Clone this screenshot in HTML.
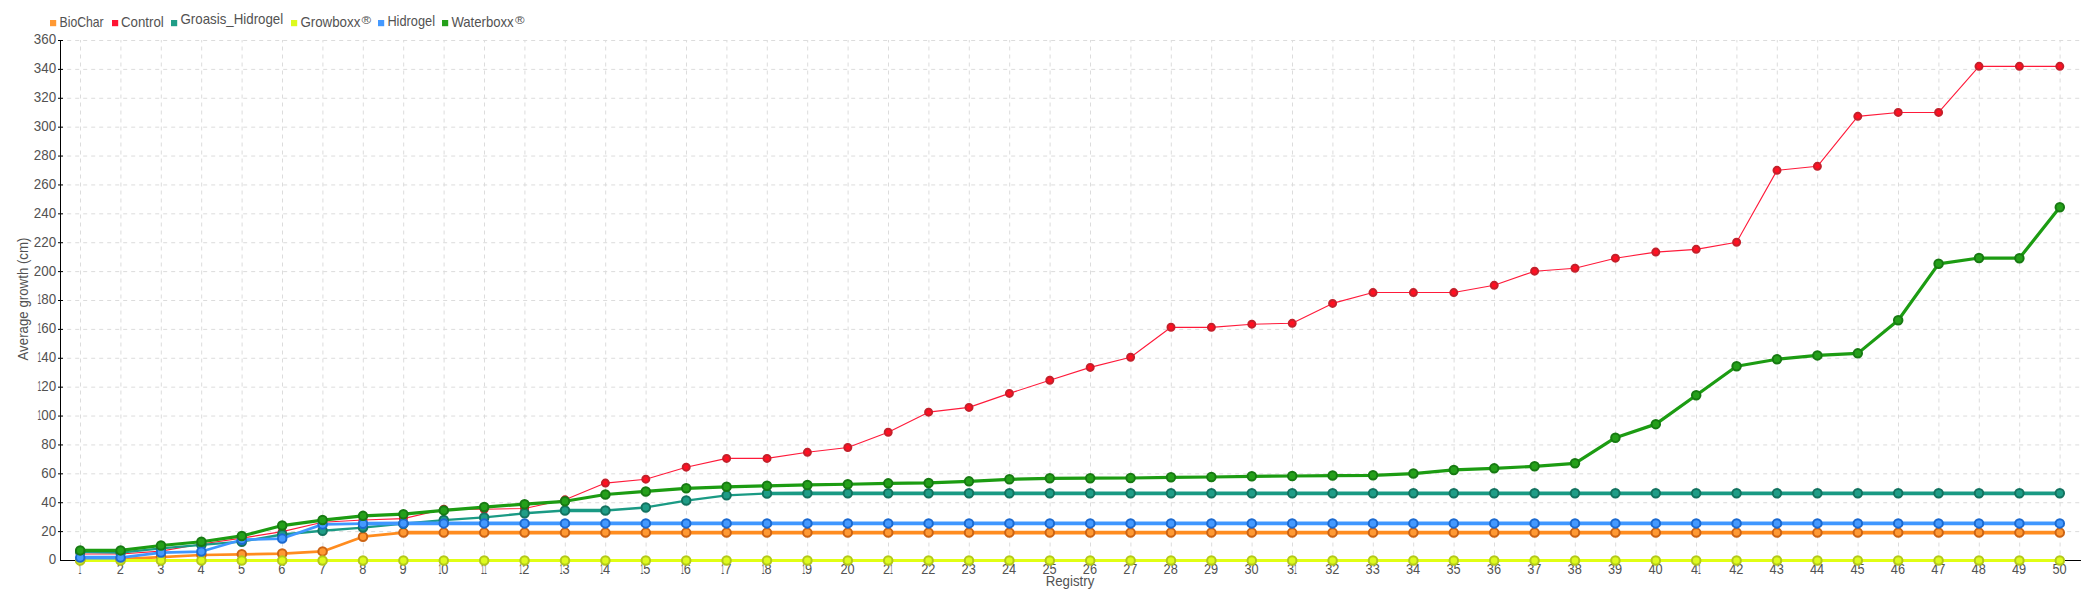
<!DOCTYPE html>
<html lang="en"><head><meta charset="utf-8"><title>Average growth</title>
<style>html,body{margin:0;padding:0;background:#fff;overflow:hidden}svg{display:block}</style></head>
<body>
<svg width="2100" height="600" viewBox="0 0 2100 600" font-family="'Liberation Sans', sans-serif" font-size="14.8" fill="#525252">
<rect width="2100" height="600" fill="#ffffff" stroke="none"/>
<g stroke="#dcdcdc" stroke-width="1" stroke-dasharray="4 4" fill="none">
<line x1="60.0" y1="531.61" x2="2080.0" y2="531.61" stroke-dashoffset="0.8"/>
<line x1="60.0" y1="502.72" x2="2080.0" y2="502.72" stroke-dashoffset="0.8"/>
<line x1="60.0" y1="473.83" x2="2080.0" y2="473.83" stroke-dashoffset="0.8"/>
<line x1="60.0" y1="444.94" x2="2080.0" y2="444.94" stroke-dashoffset="0.8"/>
<line x1="60.0" y1="416.06" x2="2080.0" y2="416.06" stroke-dashoffset="0.8"/>
<line x1="60.0" y1="387.17" x2="2080.0" y2="387.17" stroke-dashoffset="0.8"/>
<line x1="60.0" y1="358.28" x2="2080.0" y2="358.28" stroke-dashoffset="0.8"/>
<line x1="60.0" y1="329.39" x2="2080.0" y2="329.39" stroke-dashoffset="0.8"/>
<line x1="60.0" y1="300.50" x2="2080.0" y2="300.50" stroke-dashoffset="0.8"/>
<line x1="60.0" y1="271.61" x2="2080.0" y2="271.61" stroke-dashoffset="0.8"/>
<line x1="60.0" y1="242.72" x2="2080.0" y2="242.72" stroke-dashoffset="0.8"/>
<line x1="60.0" y1="213.83" x2="2080.0" y2="213.83" stroke-dashoffset="0.8"/>
<line x1="60.0" y1="184.94" x2="2080.0" y2="184.94" stroke-dashoffset="0.8"/>
<line x1="60.0" y1="156.06" x2="2080.0" y2="156.06" stroke-dashoffset="0.8"/>
<line x1="60.0" y1="127.17" x2="2080.0" y2="127.17" stroke-dashoffset="0.8"/>
<line x1="60.0" y1="98.28" x2="2080.0" y2="98.28" stroke-dashoffset="0.8"/>
<line x1="60.0" y1="69.39" x2="2080.0" y2="69.39" stroke-dashoffset="0.8"/>
<line x1="60.0" y1="40.50" x2="2080.0" y2="40.50" stroke-dashoffset="0.8"/>
<line x1="80.50" y1="40" x2="80.50" y2="560" stroke-dashoffset="1.5"/>
<line x1="120.90" y1="40" x2="120.90" y2="560" stroke-dashoffset="1.5"/>
<line x1="161.30" y1="40" x2="161.30" y2="560" stroke-dashoffset="1.5"/>
<line x1="201.70" y1="40" x2="201.70" y2="560" stroke-dashoffset="1.5"/>
<line x1="242.10" y1="40" x2="242.10" y2="560" stroke-dashoffset="1.5"/>
<line x1="282.50" y1="40" x2="282.50" y2="560" stroke-dashoffset="1.5"/>
<line x1="322.90" y1="40" x2="322.90" y2="560" stroke-dashoffset="1.5"/>
<line x1="363.30" y1="40" x2="363.30" y2="560" stroke-dashoffset="1.5"/>
<line x1="403.70" y1="40" x2="403.70" y2="560" stroke-dashoffset="1.5"/>
<line x1="444.10" y1="40" x2="444.10" y2="560" stroke-dashoffset="1.5"/>
<line x1="484.50" y1="40" x2="484.50" y2="560" stroke-dashoffset="1.5"/>
<line x1="524.90" y1="40" x2="524.90" y2="560" stroke-dashoffset="1.5"/>
<line x1="565.30" y1="40" x2="565.30" y2="560" stroke-dashoffset="1.5"/>
<line x1="605.70" y1="40" x2="605.70" y2="560" stroke-dashoffset="1.5"/>
<line x1="646.10" y1="40" x2="646.10" y2="560" stroke-dashoffset="1.5"/>
<line x1="686.50" y1="40" x2="686.50" y2="560" stroke-dashoffset="1.5"/>
<line x1="726.90" y1="40" x2="726.90" y2="560" stroke-dashoffset="1.5"/>
<line x1="767.30" y1="40" x2="767.30" y2="560" stroke-dashoffset="1.5"/>
<line x1="807.70" y1="40" x2="807.70" y2="560" stroke-dashoffset="1.5"/>
<line x1="848.10" y1="40" x2="848.10" y2="560" stroke-dashoffset="1.5"/>
<line x1="888.50" y1="40" x2="888.50" y2="560" stroke-dashoffset="1.5"/>
<line x1="928.90" y1="40" x2="928.90" y2="560" stroke-dashoffset="1.5"/>
<line x1="969.30" y1="40" x2="969.30" y2="560" stroke-dashoffset="1.5"/>
<line x1="1009.70" y1="40" x2="1009.70" y2="560" stroke-dashoffset="1.5"/>
<line x1="1050.10" y1="40" x2="1050.10" y2="560" stroke-dashoffset="1.5"/>
<line x1="1090.50" y1="40" x2="1090.50" y2="560" stroke-dashoffset="1.5"/>
<line x1="1130.90" y1="40" x2="1130.90" y2="560" stroke-dashoffset="1.5"/>
<line x1="1171.30" y1="40" x2="1171.30" y2="560" stroke-dashoffset="1.5"/>
<line x1="1211.70" y1="40" x2="1211.70" y2="560" stroke-dashoffset="1.5"/>
<line x1="1252.10" y1="40" x2="1252.10" y2="560" stroke-dashoffset="1.5"/>
<line x1="1292.50" y1="40" x2="1292.50" y2="560" stroke-dashoffset="1.5"/>
<line x1="1332.90" y1="40" x2="1332.90" y2="560" stroke-dashoffset="1.5"/>
<line x1="1373.30" y1="40" x2="1373.30" y2="560" stroke-dashoffset="1.5"/>
<line x1="1413.70" y1="40" x2="1413.70" y2="560" stroke-dashoffset="1.5"/>
<line x1="1454.10" y1="40" x2="1454.10" y2="560" stroke-dashoffset="1.5"/>
<line x1="1494.50" y1="40" x2="1494.50" y2="560" stroke-dashoffset="1.5"/>
<line x1="1534.90" y1="40" x2="1534.90" y2="560" stroke-dashoffset="1.5"/>
<line x1="1575.30" y1="40" x2="1575.30" y2="560" stroke-dashoffset="1.5"/>
<line x1="1615.70" y1="40" x2="1615.70" y2="560" stroke-dashoffset="1.5"/>
<line x1="1656.10" y1="40" x2="1656.10" y2="560" stroke-dashoffset="1.5"/>
<line x1="1696.50" y1="40" x2="1696.50" y2="560" stroke-dashoffset="1.5"/>
<line x1="1736.90" y1="40" x2="1736.90" y2="560" stroke-dashoffset="1.5"/>
<line x1="1777.30" y1="40" x2="1777.30" y2="560" stroke-dashoffset="1.5"/>
<line x1="1817.70" y1="40" x2="1817.70" y2="560" stroke-dashoffset="1.5"/>
<line x1="1858.10" y1="40" x2="1858.10" y2="560" stroke-dashoffset="1.5"/>
<line x1="1898.50" y1="40" x2="1898.50" y2="560" stroke-dashoffset="1.5"/>
<line x1="1938.90" y1="40" x2="1938.90" y2="560" stroke-dashoffset="1.5"/>
<line x1="1979.30" y1="40" x2="1979.30" y2="560" stroke-dashoffset="1.5"/>
<line x1="2019.70" y1="40" x2="2019.70" y2="560" stroke-dashoffset="1.5"/>
<line x1="2060.10" y1="40" x2="2060.10" y2="560" stroke-dashoffset="1.5"/>
</g>
<g stroke="#000000" stroke-width="1" fill="none">
<line x1="60.5" y1="40" x2="60.5" y2="561"/>
<line x1="60" y1="560.5" x2="2081" y2="560.5"/>
<line x1="58" y1="531.61" x2="63" y2="531.61"/>
<line x1="58" y1="502.72" x2="63" y2="502.72"/>
<line x1="58" y1="473.83" x2="63" y2="473.83"/>
<line x1="58" y1="444.94" x2="63" y2="444.94"/>
<line x1="58" y1="416.06" x2="63" y2="416.06"/>
<line x1="58" y1="387.17" x2="63" y2="387.17"/>
<line x1="58" y1="358.28" x2="63" y2="358.28"/>
<line x1="58" y1="329.39" x2="63" y2="329.39"/>
<line x1="58" y1="300.50" x2="63" y2="300.50"/>
<line x1="58" y1="271.61" x2="63" y2="271.61"/>
<line x1="58" y1="242.72" x2="63" y2="242.72"/>
<line x1="58" y1="213.83" x2="63" y2="213.83"/>
<line x1="58" y1="184.94" x2="63" y2="184.94"/>
<line x1="58" y1="156.06" x2="63" y2="156.06"/>
<line x1="58" y1="127.17" x2="63" y2="127.17"/>
<line x1="58" y1="98.28" x2="63" y2="98.28"/>
<line x1="58" y1="69.39" x2="63" y2="69.39"/>
<line x1="58" y1="40.50" x2="63" y2="40.50"/>
</g>
<text x="48.65" y="564.40"><tspan textLength="7.45" lengthAdjust="spacingAndGlyphs">0</tspan></text>
<text x="41.20" y="535.51"><tspan textLength="14.90" lengthAdjust="spacingAndGlyphs">20</tspan></text>
<text x="41.20" y="506.62"><tspan textLength="14.90" lengthAdjust="spacingAndGlyphs">40</tspan></text>
<text x="41.20" y="477.73"><tspan textLength="14.90" lengthAdjust="spacingAndGlyphs">60</tspan></text>
<text x="41.20" y="448.84"><tspan textLength="14.90" lengthAdjust="spacingAndGlyphs">80</tspan></text>
<text x="37.50" y="419.96"><tspan textLength="3.70" lengthAdjust="spacingAndGlyphs">1</tspan><tspan textLength="14.90" lengthAdjust="spacingAndGlyphs">00</tspan></text>
<text x="37.50" y="391.07"><tspan textLength="3.70" lengthAdjust="spacingAndGlyphs">1</tspan><tspan textLength="14.90" lengthAdjust="spacingAndGlyphs">20</tspan></text>
<text x="37.50" y="362.18"><tspan textLength="3.70" lengthAdjust="spacingAndGlyphs">1</tspan><tspan textLength="14.90" lengthAdjust="spacingAndGlyphs">40</tspan></text>
<text x="37.50" y="333.29"><tspan textLength="3.70" lengthAdjust="spacingAndGlyphs">1</tspan><tspan textLength="14.90" lengthAdjust="spacingAndGlyphs">60</tspan></text>
<text x="37.50" y="304.40"><tspan textLength="3.70" lengthAdjust="spacingAndGlyphs">1</tspan><tspan textLength="14.90" lengthAdjust="spacingAndGlyphs">80</tspan></text>
<text x="33.75" y="275.51"><tspan textLength="22.35" lengthAdjust="spacingAndGlyphs">200</tspan></text>
<text x="33.75" y="246.62"><tspan textLength="22.35" lengthAdjust="spacingAndGlyphs">220</tspan></text>
<text x="33.75" y="217.73"><tspan textLength="22.35" lengthAdjust="spacingAndGlyphs">240</tspan></text>
<text x="33.75" y="188.84"><tspan textLength="22.35" lengthAdjust="spacingAndGlyphs">260</tspan></text>
<text x="33.75" y="159.96"><tspan textLength="22.35" lengthAdjust="spacingAndGlyphs">280</tspan></text>
<text x="33.75" y="131.07"><tspan textLength="22.35" lengthAdjust="spacingAndGlyphs">300</tspan></text>
<text x="33.75" y="102.18"><tspan textLength="22.35" lengthAdjust="spacingAndGlyphs">320</tspan></text>
<text x="33.75" y="73.29"><tspan textLength="22.35" lengthAdjust="spacingAndGlyphs">340</tspan></text>
<text x="33.75" y="44.40"><tspan textLength="22.35" lengthAdjust="spacingAndGlyphs">360</tspan></text>
<text x="78.50" y="573.70"><tspan textLength="2.80" lengthAdjust="spacingAndGlyphs">1</tspan></text>
<text x="116.75" y="573.70"><tspan textLength="7.10" lengthAdjust="spacingAndGlyphs">2</tspan></text>
<text x="157.15" y="573.70"><tspan textLength="7.10" lengthAdjust="spacingAndGlyphs">3</tspan></text>
<text x="197.55" y="573.70"><tspan textLength="7.10" lengthAdjust="spacingAndGlyphs">4</tspan></text>
<text x="237.95" y="573.70"><tspan textLength="7.10" lengthAdjust="spacingAndGlyphs">5</tspan></text>
<text x="278.35" y="573.70"><tspan textLength="7.10" lengthAdjust="spacingAndGlyphs">6</tspan></text>
<text x="318.75" y="573.70"><tspan textLength="7.10" lengthAdjust="spacingAndGlyphs">7</tspan></text>
<text x="359.15" y="573.70"><tspan textLength="7.10" lengthAdjust="spacingAndGlyphs">8</tspan></text>
<text x="399.55" y="573.70"><tspan textLength="7.10" lengthAdjust="spacingAndGlyphs">9</tspan></text>
<text x="438.55" y="573.70"><tspan textLength="2.80" lengthAdjust="spacingAndGlyphs">1</tspan><tspan textLength="7.10" lengthAdjust="spacingAndGlyphs">0</tspan></text>
<text x="481.10" y="573.70"><tspan textLength="2.80" lengthAdjust="spacingAndGlyphs">1</tspan><tspan textLength="2.80" lengthAdjust="spacingAndGlyphs">1</tspan></text>
<text x="519.35" y="573.70"><tspan textLength="2.80" lengthAdjust="spacingAndGlyphs">1</tspan><tspan textLength="7.10" lengthAdjust="spacingAndGlyphs">2</tspan></text>
<text x="559.75" y="573.70"><tspan textLength="2.80" lengthAdjust="spacingAndGlyphs">1</tspan><tspan textLength="7.10" lengthAdjust="spacingAndGlyphs">3</tspan></text>
<text x="600.15" y="573.70"><tspan textLength="2.80" lengthAdjust="spacingAndGlyphs">1</tspan><tspan textLength="7.10" lengthAdjust="spacingAndGlyphs">4</tspan></text>
<text x="640.55" y="573.70"><tspan textLength="2.80" lengthAdjust="spacingAndGlyphs">1</tspan><tspan textLength="7.10" lengthAdjust="spacingAndGlyphs">5</tspan></text>
<text x="680.95" y="573.70"><tspan textLength="2.80" lengthAdjust="spacingAndGlyphs">1</tspan><tspan textLength="7.10" lengthAdjust="spacingAndGlyphs">6</tspan></text>
<text x="721.35" y="573.70"><tspan textLength="2.80" lengthAdjust="spacingAndGlyphs">1</tspan><tspan textLength="7.10" lengthAdjust="spacingAndGlyphs">7</tspan></text>
<text x="761.75" y="573.70"><tspan textLength="2.80" lengthAdjust="spacingAndGlyphs">1</tspan><tspan textLength="7.10" lengthAdjust="spacingAndGlyphs">8</tspan></text>
<text x="802.15" y="573.70"><tspan textLength="2.80" lengthAdjust="spacingAndGlyphs">1</tspan><tspan textLength="7.10" lengthAdjust="spacingAndGlyphs">9</tspan></text>
<text x="840.40" y="573.70"><tspan textLength="14.20" lengthAdjust="spacingAndGlyphs">20</tspan></text>
<text x="882.95" y="573.70"><tspan textLength="7.10" lengthAdjust="spacingAndGlyphs">2</tspan><tspan textLength="2.80" lengthAdjust="spacingAndGlyphs">1</tspan></text>
<text x="921.20" y="573.70"><tspan textLength="14.20" lengthAdjust="spacingAndGlyphs">22</tspan></text>
<text x="961.60" y="573.70"><tspan textLength="14.20" lengthAdjust="spacingAndGlyphs">23</tspan></text>
<text x="1002.00" y="573.70"><tspan textLength="14.20" lengthAdjust="spacingAndGlyphs">24</tspan></text>
<text x="1042.40" y="573.70"><tspan textLength="14.20" lengthAdjust="spacingAndGlyphs">25</tspan></text>
<text x="1082.80" y="573.70"><tspan textLength="14.20" lengthAdjust="spacingAndGlyphs">26</tspan></text>
<text x="1123.20" y="573.70"><tspan textLength="14.20" lengthAdjust="spacingAndGlyphs">27</tspan></text>
<text x="1163.60" y="573.70"><tspan textLength="14.20" lengthAdjust="spacingAndGlyphs">28</tspan></text>
<text x="1204.00" y="573.70"><tspan textLength="14.20" lengthAdjust="spacingAndGlyphs">29</tspan></text>
<text x="1244.40" y="573.70"><tspan textLength="14.20" lengthAdjust="spacingAndGlyphs">30</tspan></text>
<text x="1286.95" y="573.70"><tspan textLength="7.10" lengthAdjust="spacingAndGlyphs">3</tspan><tspan textLength="2.80" lengthAdjust="spacingAndGlyphs">1</tspan></text>
<text x="1325.20" y="573.70"><tspan textLength="14.20" lengthAdjust="spacingAndGlyphs">32</tspan></text>
<text x="1365.60" y="573.70"><tspan textLength="14.20" lengthAdjust="spacingAndGlyphs">33</tspan></text>
<text x="1406.00" y="573.70"><tspan textLength="14.20" lengthAdjust="spacingAndGlyphs">34</tspan></text>
<text x="1446.40" y="573.70"><tspan textLength="14.20" lengthAdjust="spacingAndGlyphs">35</tspan></text>
<text x="1486.80" y="573.70"><tspan textLength="14.20" lengthAdjust="spacingAndGlyphs">36</tspan></text>
<text x="1527.20" y="573.70"><tspan textLength="14.20" lengthAdjust="spacingAndGlyphs">37</tspan></text>
<text x="1567.60" y="573.70"><tspan textLength="14.20" lengthAdjust="spacingAndGlyphs">38</tspan></text>
<text x="1608.00" y="573.70"><tspan textLength="14.20" lengthAdjust="spacingAndGlyphs">39</tspan></text>
<text x="1648.40" y="573.70"><tspan textLength="14.20" lengthAdjust="spacingAndGlyphs">40</tspan></text>
<text x="1690.95" y="573.70"><tspan textLength="7.10" lengthAdjust="spacingAndGlyphs">4</tspan><tspan textLength="2.80" lengthAdjust="spacingAndGlyphs">1</tspan></text>
<text x="1729.20" y="573.70"><tspan textLength="14.20" lengthAdjust="spacingAndGlyphs">42</tspan></text>
<text x="1769.60" y="573.70"><tspan textLength="14.20" lengthAdjust="spacingAndGlyphs">43</tspan></text>
<text x="1810.00" y="573.70"><tspan textLength="14.20" lengthAdjust="spacingAndGlyphs">44</tspan></text>
<text x="1850.40" y="573.70"><tspan textLength="14.20" lengthAdjust="spacingAndGlyphs">45</tspan></text>
<text x="1890.80" y="573.70"><tspan textLength="14.20" lengthAdjust="spacingAndGlyphs">46</tspan></text>
<text x="1931.20" y="573.70"><tspan textLength="14.20" lengthAdjust="spacingAndGlyphs">47</tspan></text>
<text x="1971.60" y="573.70"><tspan textLength="14.20" lengthAdjust="spacingAndGlyphs">48</tspan></text>
<text x="2012.00" y="573.70"><tspan textLength="14.20" lengthAdjust="spacingAndGlyphs">49</tspan></text>
<text x="2052.40" y="573.70"><tspan textLength="14.20" lengthAdjust="spacingAndGlyphs">50</tspan></text>
<text x="1070" y="585.8" text-anchor="middle" textLength="48.6" lengthAdjust="spacingAndGlyphs">Registry</text>
<text transform="translate(28 299) rotate(-90)" text-anchor="middle" textLength="123" lengthAdjust="spacingAndGlyphs">Average growth (cm)</text>
<polyline points="80.2,559.78 120.6,559.06 161.0,557.03 201.4,555.01 241.8,554.29 282.2,553.57 322.6,551.40 363.0,536.67 403.4,532.62" fill="none" stroke="#ff8c1f" stroke-width="2.7" stroke-linejoin="round"/>
<polyline points="403.4,532.62 443.8,532.62 484.2,532.62 524.6,532.62 565.0,532.62 605.4,532.62 645.8,532.62 686.2,532.62 726.6,532.62 767.0,532.62 807.4,532.62 847.8,532.62 888.2,532.62 928.6,532.62 969.0,532.62 1009.4,532.62 1049.8,532.62 1090.2,532.62 1130.6,532.62 1171.0,532.62 1211.4,532.62 1251.8,532.62 1292.2,532.62 1332.6,532.62 1373.0,532.62 1413.4,532.62 1453.8,532.62 1494.2,532.62 1534.6,532.62 1575.0,532.62 1615.4,532.62 1655.8,532.62 1696.2,532.62 1736.6,532.62 1777.0,532.62 1817.4,532.62 1857.8,532.62 1898.2,532.62 1938.6,532.62 1979.0,532.62 2019.4,532.62 2059.8,532.62" fill="none" stroke="#ff8c1f" stroke-width="3.6" stroke-linejoin="round"/>
<polyline points="80.2,554.00 120.6,554.00 161.0,551.11 201.4,544.03 241.8,538.11 282.2,531.61 322.6,522.22 363.0,520.06 403.4,518.61 443.8,509.22 484.2,509.22 524.6,508.50 565.0,499.83 605.4,483.08 645.8,479.18 686.2,467.19 726.6,458.38 767.0,458.38 807.4,452.31 847.8,447.54 888.2,432.23 928.6,412.16 969.0,407.39 1009.4,393.38 1049.8,380.23 1090.2,367.38 1130.6,357.27 1171.0,327.22 1211.4,327.37 1251.8,324.19 1292.2,323.32 1332.6,303.39 1373.0,292.56 1413.4,292.56 1453.8,292.56 1494.2,285.33 1534.6,271.18 1575.0,268.29 1615.4,258.18 1655.8,252.11 1696.2,249.37 1736.6,242.29 1777.0,170.36 1817.4,166.31 1857.8,116.33 1898.2,112.43 1938.6,112.43 1979.0,66.36 2019.4,66.36 2059.8,66.36" fill="none" stroke="#ff1a3a" stroke-width="1.1" stroke-linejoin="round"/>
<polyline points="80.2,551.83 120.6,552.56 161.0,548.37 201.4,544.90 241.8,541.72 282.2,534.50 322.6,530.74 363.0,527.57 403.4,523.67 443.8,520.06 484.2,517.46 524.6,513.27 565.0,510.52" fill="none" stroke="#1a9a84" stroke-width="2.3" stroke-linejoin="round"/>
<polyline points="565.0,510.52 605.4,510.52" fill="none" stroke="#1a9a84" stroke-width="3.6" stroke-linejoin="round"/>
<polyline points="605.4,510.52 645.8,507.49 686.2,500.56 726.6,495.36 767.0,493.48" fill="none" stroke="#1a9a84" stroke-width="2.3" stroke-linejoin="round"/>
<polyline points="767.0,493.48 807.4,493.33 847.8,493.33 888.2,493.33 928.6,493.33 969.0,493.33 1009.4,493.33 1049.8,493.33 1090.2,493.33 1130.6,493.33 1171.0,493.33 1211.4,493.33 1251.8,493.33 1292.2,493.33 1332.6,493.33 1373.0,493.33 1413.4,493.33 1453.8,493.33 1494.2,493.33 1534.6,493.33 1575.0,493.33 1615.4,493.33 1655.8,493.33 1696.2,493.33 1736.6,493.33 1777.0,493.33 1817.4,493.33 1857.8,493.33 1898.2,493.33 1938.6,493.33 1979.0,493.33 2019.4,493.33 2059.8,493.33" fill="none" stroke="#1a9a84" stroke-width="3.6" stroke-linejoin="round"/>
<polyline points="80.2,560.50 120.6,560.50 161.0,560.50 201.4,560.50 241.8,560.50 282.2,560.50 322.6,560.50 363.0,560.50 403.4,560.50 443.8,560.50 484.2,560.50 524.6,560.50 565.0,560.50 605.4,560.50 645.8,560.50 686.2,560.50 726.6,560.50 767.0,560.50 807.4,560.50 847.8,560.50 888.2,560.50 928.6,560.50 969.0,560.50 1009.4,560.50 1049.8,560.50 1090.2,560.50 1130.6,560.50 1171.0,560.50 1211.4,560.50 1251.8,560.50 1292.2,560.50 1332.6,560.50 1373.0,560.50 1413.4,560.50 1453.8,560.50 1494.2,560.50 1534.6,560.50 1575.0,560.50 1615.4,560.50 1655.8,560.50 1696.2,560.50 1736.6,560.50 1777.0,560.50 1817.4,560.50 1857.8,560.50 1898.2,560.50 1938.6,560.50 1979.0,560.50 2019.4,560.50 2059.8,560.50" fill="none" stroke="#e1ff14" stroke-width="3" stroke-linejoin="round"/>
<polyline points="80.2,557.61 120.6,557.61" fill="none" stroke="#3f97ff" stroke-width="3.6" stroke-linejoin="round"/>
<polyline points="120.6,557.61 161.0,552.56 201.4,551.54 241.8,539.70 282.2,538.54 322.6,524.39 363.0,523.67" fill="none" stroke="#3f97ff" stroke-width="2.7" stroke-linejoin="round"/>
<polyline points="363.0,523.67 403.4,523.38 443.8,523.38 484.2,523.38 524.6,523.38 565.0,523.38 605.4,523.38 645.8,523.38 686.2,523.38 726.6,523.38 767.0,523.38 807.4,523.38 847.8,523.38 888.2,523.38 928.6,523.38 969.0,523.38 1009.4,523.38 1049.8,523.38 1090.2,523.38 1130.6,523.38 1171.0,523.38 1211.4,523.38 1251.8,523.38 1292.2,523.38 1332.6,523.38 1373.0,523.38 1413.4,523.38 1453.8,523.38 1494.2,523.38 1534.6,523.38 1575.0,523.38 1615.4,523.38 1655.8,523.38 1696.2,523.38 1736.6,523.38 1777.0,523.38 1817.4,523.38 1857.8,523.38 1898.2,523.38 1938.6,523.38 1979.0,523.38 2019.4,523.38 2059.8,523.38" fill="none" stroke="#3f97ff" stroke-width="3.6" stroke-linejoin="round"/>
<polyline points="80.2,550.39 120.6,550.39 161.0,545.48 201.4,541.72 241.8,535.94 282.2,525.54 322.6,520.06 363.0,515.87 403.4,514.13 443.8,510.38 484.2,507.06 524.6,504.17 565.0,501.28 605.4,494.49 645.8,491.46 686.2,488.28 726.6,486.83 767.0,485.82 807.4,484.96 847.8,484.23 888.2,483.37 928.6,482.93 969.0,481.34 1009.4,479.32 1049.8,478.31 1090.2,478.17 1130.6,478.02 1171.0,477.30 1211.4,477.01 1251.8,476.29 1292.2,476.00 1332.6,475.57 1373.0,475.28 1413.4,473.54 1453.8,469.93 1494.2,468.34 1534.6,466.32 1575.0,463.29 1615.4,437.72 1655.8,424.14 1696.2,395.26 1736.6,366.22 1777.0,359.29 1817.4,355.39 1857.8,353.37 1898.2,320.29 1938.6,263.81 1979.0,258.03 2019.4,258.18 2059.8,207.33" fill="none" stroke="#1c9c12" stroke-width="3.2" stroke-linejoin="round"/>
<g fill="#ff9933" stroke="#cc6414" stroke-width="2">
<circle cx="80.2" cy="559.78" r="4.25"/>
<circle cx="120.6" cy="559.06" r="4.25"/>
<circle cx="161.0" cy="557.03" r="4.25"/>
<circle cx="201.4" cy="555.01" r="4.25"/>
<circle cx="241.8" cy="554.29" r="4.25"/>
<circle cx="282.2" cy="553.57" r="4.25"/>
<circle cx="322.6" cy="551.40" r="4.25"/>
<circle cx="363.0" cy="536.67" r="4.25"/>
<circle cx="403.4" cy="532.62" r="4.25"/>
<circle cx="443.8" cy="532.62" r="4.25"/>
<circle cx="484.2" cy="532.62" r="4.25"/>
<circle cx="524.6" cy="532.62" r="4.25"/>
<circle cx="565.0" cy="532.62" r="4.25"/>
<circle cx="605.4" cy="532.62" r="4.25"/>
<circle cx="645.8" cy="532.62" r="4.25"/>
<circle cx="686.2" cy="532.62" r="4.25"/>
<circle cx="726.6" cy="532.62" r="4.25"/>
<circle cx="767.0" cy="532.62" r="4.25"/>
<circle cx="807.4" cy="532.62" r="4.25"/>
<circle cx="847.8" cy="532.62" r="4.25"/>
<circle cx="888.2" cy="532.62" r="4.25"/>
<circle cx="928.6" cy="532.62" r="4.25"/>
<circle cx="969.0" cy="532.62" r="4.25"/>
<circle cx="1009.4" cy="532.62" r="4.25"/>
<circle cx="1049.8" cy="532.62" r="4.25"/>
<circle cx="1090.2" cy="532.62" r="4.25"/>
<circle cx="1130.6" cy="532.62" r="4.25"/>
<circle cx="1171.0" cy="532.62" r="4.25"/>
<circle cx="1211.4" cy="532.62" r="4.25"/>
<circle cx="1251.8" cy="532.62" r="4.25"/>
<circle cx="1292.2" cy="532.62" r="4.25"/>
<circle cx="1332.6" cy="532.62" r="4.25"/>
<circle cx="1373.0" cy="532.62" r="4.25"/>
<circle cx="1413.4" cy="532.62" r="4.25"/>
<circle cx="1453.8" cy="532.62" r="4.25"/>
<circle cx="1494.2" cy="532.62" r="4.25"/>
<circle cx="1534.6" cy="532.62" r="4.25"/>
<circle cx="1575.0" cy="532.62" r="4.25"/>
<circle cx="1615.4" cy="532.62" r="4.25"/>
<circle cx="1655.8" cy="532.62" r="4.25"/>
<circle cx="1696.2" cy="532.62" r="4.25"/>
<circle cx="1736.6" cy="532.62" r="4.25"/>
<circle cx="1777.0" cy="532.62" r="4.25"/>
<circle cx="1817.4" cy="532.62" r="4.25"/>
<circle cx="1857.8" cy="532.62" r="4.25"/>
<circle cx="1898.2" cy="532.62" r="4.25"/>
<circle cx="1938.6" cy="532.62" r="4.25"/>
<circle cx="1979.0" cy="532.62" r="4.25"/>
<circle cx="2019.4" cy="532.62" r="4.25"/>
<circle cx="2059.8" cy="532.62" r="4.25"/>
</g>
<g fill="#ff1022" stroke="#c4202b" stroke-width="2">
<circle cx="80.2" cy="554.00" r="3.5"/>
<circle cx="120.6" cy="554.00" r="3.5"/>
<circle cx="161.0" cy="551.11" r="3.5"/>
<circle cx="201.4" cy="544.03" r="3.5"/>
<circle cx="241.8" cy="538.11" r="3.5"/>
<circle cx="282.2" cy="531.61" r="3.5"/>
<circle cx="322.6" cy="522.22" r="3.5"/>
<circle cx="363.0" cy="520.06" r="3.5"/>
<circle cx="403.4" cy="518.61" r="3.5"/>
<circle cx="443.8" cy="509.22" r="3.5"/>
<circle cx="484.2" cy="509.22" r="3.5"/>
<circle cx="524.6" cy="508.50" r="3.5"/>
<circle cx="565.0" cy="499.83" r="3.5"/>
<circle cx="605.4" cy="483.08" r="3.5"/>
<circle cx="645.8" cy="479.18" r="3.5"/>
<circle cx="686.2" cy="467.19" r="3.5"/>
<circle cx="726.6" cy="458.38" r="3.5"/>
<circle cx="767.0" cy="458.38" r="3.5"/>
<circle cx="807.4" cy="452.31" r="3.5"/>
<circle cx="847.8" cy="447.54" r="3.5"/>
<circle cx="888.2" cy="432.23" r="3.5"/>
<circle cx="928.6" cy="412.16" r="3.5"/>
<circle cx="969.0" cy="407.39" r="3.5"/>
<circle cx="1009.4" cy="393.38" r="3.5"/>
<circle cx="1049.8" cy="380.23" r="3.5"/>
<circle cx="1090.2" cy="367.38" r="3.5"/>
<circle cx="1130.6" cy="357.27" r="3.5"/>
<circle cx="1171.0" cy="327.22" r="3.5"/>
<circle cx="1211.4" cy="327.37" r="3.5"/>
<circle cx="1251.8" cy="324.19" r="3.5"/>
<circle cx="1292.2" cy="323.32" r="3.5"/>
<circle cx="1332.6" cy="303.39" r="3.5"/>
<circle cx="1373.0" cy="292.56" r="3.5"/>
<circle cx="1413.4" cy="292.56" r="3.5"/>
<circle cx="1453.8" cy="292.56" r="3.5"/>
<circle cx="1494.2" cy="285.33" r="3.5"/>
<circle cx="1534.6" cy="271.18" r="3.5"/>
<circle cx="1575.0" cy="268.29" r="3.5"/>
<circle cx="1615.4" cy="258.18" r="3.5"/>
<circle cx="1655.8" cy="252.11" r="3.5"/>
<circle cx="1696.2" cy="249.37" r="3.5"/>
<circle cx="1736.6" cy="242.29" r="3.5"/>
<circle cx="1777.0" cy="170.36" r="3.5"/>
<circle cx="1817.4" cy="166.31" r="3.5"/>
<circle cx="1857.8" cy="116.33" r="3.5"/>
<circle cx="1898.2" cy="112.43" r="3.5"/>
<circle cx="1938.6" cy="112.43" r="3.5"/>
<circle cx="1979.0" cy="66.36" r="3.5"/>
<circle cx="2019.4" cy="66.36" r="3.5"/>
<circle cx="2059.8" cy="66.36" r="3.5"/>
</g>
<g fill="#1f9d87" stroke="#137360" stroke-width="2">
<circle cx="80.2" cy="551.83" r="4.25"/>
<circle cx="120.6" cy="552.56" r="4.25"/>
<circle cx="161.0" cy="548.37" r="4.25"/>
<circle cx="201.4" cy="544.90" r="4.25"/>
<circle cx="241.8" cy="541.72" r="4.25"/>
<circle cx="282.2" cy="534.50" r="4.25"/>
<circle cx="322.6" cy="530.74" r="4.25"/>
<circle cx="363.0" cy="527.57" r="4.25"/>
<circle cx="403.4" cy="523.67" r="4.25"/>
<circle cx="443.8" cy="520.06" r="4.25"/>
<circle cx="484.2" cy="517.46" r="4.25"/>
<circle cx="524.6" cy="513.27" r="4.25"/>
<circle cx="565.0" cy="510.52" r="4.25"/>
<circle cx="605.4" cy="510.52" r="4.25"/>
<circle cx="645.8" cy="507.49" r="4.25"/>
<circle cx="686.2" cy="500.56" r="4.25"/>
<circle cx="726.6" cy="495.36" r="4.25"/>
<circle cx="767.0" cy="493.48" r="4.25"/>
<circle cx="807.4" cy="493.33" r="4.25"/>
<circle cx="847.8" cy="493.33" r="4.25"/>
<circle cx="888.2" cy="493.33" r="4.25"/>
<circle cx="928.6" cy="493.33" r="4.25"/>
<circle cx="969.0" cy="493.33" r="4.25"/>
<circle cx="1009.4" cy="493.33" r="4.25"/>
<circle cx="1049.8" cy="493.33" r="4.25"/>
<circle cx="1090.2" cy="493.33" r="4.25"/>
<circle cx="1130.6" cy="493.33" r="4.25"/>
<circle cx="1171.0" cy="493.33" r="4.25"/>
<circle cx="1211.4" cy="493.33" r="4.25"/>
<circle cx="1251.8" cy="493.33" r="4.25"/>
<circle cx="1292.2" cy="493.33" r="4.25"/>
<circle cx="1332.6" cy="493.33" r="4.25"/>
<circle cx="1373.0" cy="493.33" r="4.25"/>
<circle cx="1413.4" cy="493.33" r="4.25"/>
<circle cx="1453.8" cy="493.33" r="4.25"/>
<circle cx="1494.2" cy="493.33" r="4.25"/>
<circle cx="1534.6" cy="493.33" r="4.25"/>
<circle cx="1575.0" cy="493.33" r="4.25"/>
<circle cx="1615.4" cy="493.33" r="4.25"/>
<circle cx="1655.8" cy="493.33" r="4.25"/>
<circle cx="1696.2" cy="493.33" r="4.25"/>
<circle cx="1736.6" cy="493.33" r="4.25"/>
<circle cx="1777.0" cy="493.33" r="4.25"/>
<circle cx="1817.4" cy="493.33" r="4.25"/>
<circle cx="1857.8" cy="493.33" r="4.25"/>
<circle cx="1898.2" cy="493.33" r="4.25"/>
<circle cx="1938.6" cy="493.33" r="4.25"/>
<circle cx="1979.0" cy="493.33" r="4.25"/>
<circle cx="2019.4" cy="493.33" r="4.25"/>
<circle cx="2059.8" cy="493.33" r="4.25"/>
</g>
<g fill="#ddfa1e" stroke="#b3c81a" stroke-width="2">
<circle cx="80.2" cy="560.50" r="4.25"/>
<circle cx="120.6" cy="560.50" r="4.25"/>
<circle cx="161.0" cy="560.50" r="4.25"/>
<circle cx="201.4" cy="560.50" r="4.25"/>
<circle cx="241.8" cy="560.50" r="4.25"/>
<circle cx="282.2" cy="560.50" r="4.25"/>
<circle cx="322.6" cy="560.50" r="4.25"/>
<circle cx="363.0" cy="560.50" r="4.25"/>
<circle cx="403.4" cy="560.50" r="4.25"/>
<circle cx="443.8" cy="560.50" r="4.25"/>
<circle cx="484.2" cy="560.50" r="4.25"/>
<circle cx="524.6" cy="560.50" r="4.25"/>
<circle cx="565.0" cy="560.50" r="4.25"/>
<circle cx="605.4" cy="560.50" r="4.25"/>
<circle cx="645.8" cy="560.50" r="4.25"/>
<circle cx="686.2" cy="560.50" r="4.25"/>
<circle cx="726.6" cy="560.50" r="4.25"/>
<circle cx="767.0" cy="560.50" r="4.25"/>
<circle cx="807.4" cy="560.50" r="4.25"/>
<circle cx="847.8" cy="560.50" r="4.25"/>
<circle cx="888.2" cy="560.50" r="4.25"/>
<circle cx="928.6" cy="560.50" r="4.25"/>
<circle cx="969.0" cy="560.50" r="4.25"/>
<circle cx="1009.4" cy="560.50" r="4.25"/>
<circle cx="1049.8" cy="560.50" r="4.25"/>
<circle cx="1090.2" cy="560.50" r="4.25"/>
<circle cx="1130.6" cy="560.50" r="4.25"/>
<circle cx="1171.0" cy="560.50" r="4.25"/>
<circle cx="1211.4" cy="560.50" r="4.25"/>
<circle cx="1251.8" cy="560.50" r="4.25"/>
<circle cx="1292.2" cy="560.50" r="4.25"/>
<circle cx="1332.6" cy="560.50" r="4.25"/>
<circle cx="1373.0" cy="560.50" r="4.25"/>
<circle cx="1413.4" cy="560.50" r="4.25"/>
<circle cx="1453.8" cy="560.50" r="4.25"/>
<circle cx="1494.2" cy="560.50" r="4.25"/>
<circle cx="1534.6" cy="560.50" r="4.25"/>
<circle cx="1575.0" cy="560.50" r="4.25"/>
<circle cx="1615.4" cy="560.50" r="4.25"/>
<circle cx="1655.8" cy="560.50" r="4.25"/>
<circle cx="1696.2" cy="560.50" r="4.25"/>
<circle cx="1736.6" cy="560.50" r="4.25"/>
<circle cx="1777.0" cy="560.50" r="4.25"/>
<circle cx="1817.4" cy="560.50" r="4.25"/>
<circle cx="1857.8" cy="560.50" r="4.25"/>
<circle cx="1898.2" cy="560.50" r="4.25"/>
<circle cx="1938.6" cy="560.50" r="4.25"/>
<circle cx="1979.0" cy="560.50" r="4.25"/>
<circle cx="2019.4" cy="560.50" r="4.25"/>
<circle cx="2059.8" cy="560.50" r="4.25"/>
</g>
<g fill="#4499ff" stroke="#1c6ad0" stroke-width="2">
<circle cx="80.2" cy="557.61" r="4.25"/>
<circle cx="120.6" cy="557.61" r="4.25"/>
<circle cx="161.0" cy="552.56" r="4.25"/>
<circle cx="201.4" cy="551.54" r="4.25"/>
<circle cx="241.8" cy="539.70" r="4.25"/>
<circle cx="282.2" cy="538.54" r="4.25"/>
<circle cx="322.6" cy="524.39" r="4.25"/>
<circle cx="363.0" cy="523.67" r="4.25"/>
<circle cx="403.4" cy="523.38" r="4.25"/>
<circle cx="443.8" cy="523.38" r="4.25"/>
<circle cx="484.2" cy="523.38" r="4.25"/>
<circle cx="524.6" cy="523.38" r="4.25"/>
<circle cx="565.0" cy="523.38" r="4.25"/>
<circle cx="605.4" cy="523.38" r="4.25"/>
<circle cx="645.8" cy="523.38" r="4.25"/>
<circle cx="686.2" cy="523.38" r="4.25"/>
<circle cx="726.6" cy="523.38" r="4.25"/>
<circle cx="767.0" cy="523.38" r="4.25"/>
<circle cx="807.4" cy="523.38" r="4.25"/>
<circle cx="847.8" cy="523.38" r="4.25"/>
<circle cx="888.2" cy="523.38" r="4.25"/>
<circle cx="928.6" cy="523.38" r="4.25"/>
<circle cx="969.0" cy="523.38" r="4.25"/>
<circle cx="1009.4" cy="523.38" r="4.25"/>
<circle cx="1049.8" cy="523.38" r="4.25"/>
<circle cx="1090.2" cy="523.38" r="4.25"/>
<circle cx="1130.6" cy="523.38" r="4.25"/>
<circle cx="1171.0" cy="523.38" r="4.25"/>
<circle cx="1211.4" cy="523.38" r="4.25"/>
<circle cx="1251.8" cy="523.38" r="4.25"/>
<circle cx="1292.2" cy="523.38" r="4.25"/>
<circle cx="1332.6" cy="523.38" r="4.25"/>
<circle cx="1373.0" cy="523.38" r="4.25"/>
<circle cx="1413.4" cy="523.38" r="4.25"/>
<circle cx="1453.8" cy="523.38" r="4.25"/>
<circle cx="1494.2" cy="523.38" r="4.25"/>
<circle cx="1534.6" cy="523.38" r="4.25"/>
<circle cx="1575.0" cy="523.38" r="4.25"/>
<circle cx="1615.4" cy="523.38" r="4.25"/>
<circle cx="1655.8" cy="523.38" r="4.25"/>
<circle cx="1696.2" cy="523.38" r="4.25"/>
<circle cx="1736.6" cy="523.38" r="4.25"/>
<circle cx="1777.0" cy="523.38" r="4.25"/>
<circle cx="1817.4" cy="523.38" r="4.25"/>
<circle cx="1857.8" cy="523.38" r="4.25"/>
<circle cx="1898.2" cy="523.38" r="4.25"/>
<circle cx="1938.6" cy="523.38" r="4.25"/>
<circle cx="1979.0" cy="523.38" r="4.25"/>
<circle cx="2019.4" cy="523.38" r="4.25"/>
<circle cx="2059.8" cy="523.38" r="4.25"/>
</g>
<g fill="#25a01a" stroke="#177a12" stroke-width="2">
<circle cx="80.2" cy="550.39" r="4.25"/>
<circle cx="120.6" cy="550.39" r="4.25"/>
<circle cx="161.0" cy="545.48" r="4.25"/>
<circle cx="201.4" cy="541.72" r="4.25"/>
<circle cx="241.8" cy="535.94" r="4.25"/>
<circle cx="282.2" cy="525.54" r="4.25"/>
<circle cx="322.6" cy="520.06" r="4.25"/>
<circle cx="363.0" cy="515.87" r="4.25"/>
<circle cx="403.4" cy="514.13" r="4.25"/>
<circle cx="443.8" cy="510.38" r="4.25"/>
<circle cx="484.2" cy="507.06" r="4.25"/>
<circle cx="524.6" cy="504.17" r="4.25"/>
<circle cx="565.0" cy="501.28" r="4.25"/>
<circle cx="605.4" cy="494.49" r="4.25"/>
<circle cx="645.8" cy="491.46" r="4.25"/>
<circle cx="686.2" cy="488.28" r="4.25"/>
<circle cx="726.6" cy="486.83" r="4.25"/>
<circle cx="767.0" cy="485.82" r="4.25"/>
<circle cx="807.4" cy="484.96" r="4.25"/>
<circle cx="847.8" cy="484.23" r="4.25"/>
<circle cx="888.2" cy="483.37" r="4.25"/>
<circle cx="928.6" cy="482.93" r="4.25"/>
<circle cx="969.0" cy="481.34" r="4.25"/>
<circle cx="1009.4" cy="479.32" r="4.25"/>
<circle cx="1049.8" cy="478.31" r="4.25"/>
<circle cx="1090.2" cy="478.17" r="4.25"/>
<circle cx="1130.6" cy="478.02" r="4.25"/>
<circle cx="1171.0" cy="477.30" r="4.25"/>
<circle cx="1211.4" cy="477.01" r="4.25"/>
<circle cx="1251.8" cy="476.29" r="4.25"/>
<circle cx="1292.2" cy="476.00" r="4.25"/>
<circle cx="1332.6" cy="475.57" r="4.25"/>
<circle cx="1373.0" cy="475.28" r="4.25"/>
<circle cx="1413.4" cy="473.54" r="4.25"/>
<circle cx="1453.8" cy="469.93" r="4.25"/>
<circle cx="1494.2" cy="468.34" r="4.25"/>
<circle cx="1534.6" cy="466.32" r="4.25"/>
<circle cx="1575.0" cy="463.29" r="4.25"/>
<circle cx="1615.4" cy="437.72" r="4.25"/>
<circle cx="1655.8" cy="424.14" r="4.25"/>
<circle cx="1696.2" cy="395.26" r="4.25"/>
<circle cx="1736.6" cy="366.22" r="4.25"/>
<circle cx="1777.0" cy="359.29" r="4.25"/>
<circle cx="1817.4" cy="355.39" r="4.25"/>
<circle cx="1857.8" cy="353.37" r="4.25"/>
<circle cx="1898.2" cy="320.29" r="4.25"/>
<circle cx="1938.6" cy="263.81" r="4.25"/>
<circle cx="1979.0" cy="258.03" r="4.25"/>
<circle cx="2019.4" cy="258.18" r="4.25"/>
<circle cx="2059.8" cy="207.33" r="4.25"/>
</g>
<rect x="50" y="20" width="6.2" height="6.2" fill="#ff9933" stroke="none"/>
<text x="59.5" y="26.8" textLength="44.2" lengthAdjust="spacingAndGlyphs">BioChar</text>
<rect x="112" y="20" width="6.2" height="6.2" fill="#ff1433" stroke="none"/>
<text x="121.0" y="26.8" textLength="42.8" lengthAdjust="spacingAndGlyphs">Control</text>
<rect x="171" y="20" width="6.2" height="6.2" fill="#1f9d87" stroke="none"/>
<text x="180.5" y="24.3" textLength="102.7" lengthAdjust="spacingAndGlyphs">Groasis_Hidrogel</text>
<rect x="291" y="20" width="6.2" height="6.2" fill="#ddfa1e" stroke="none"/>
<text x="300.4" y="26.8"><tspan textLength="59.9" lengthAdjust="spacingAndGlyphs">Growboxx</tspan><tspan font-size="11" dx="1.2" dy="-2.9" textLength="9.6" lengthAdjust="spacingAndGlyphs">®</tspan></text>
<rect x="378" y="20" width="6.2" height="6.2" fill="#4499ff" stroke="none"/>
<text x="387.4" y="25.6" textLength="47.6" lengthAdjust="spacingAndGlyphs">Hidrogel</text>
<rect x="442" y="20" width="6.2" height="6.2" fill="#25a01a" stroke="none"/>
<text x="451.4" y="26.8"><tspan textLength="62.3" lengthAdjust="spacingAndGlyphs">Waterboxx</tspan><tspan font-size="11" dx="1.2" dy="-2.9" textLength="9.6" lengthAdjust="spacingAndGlyphs">®</tspan></text>
</svg>
</body></html>
